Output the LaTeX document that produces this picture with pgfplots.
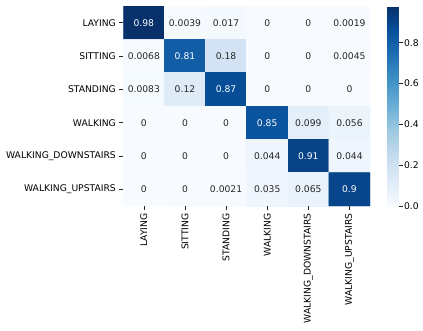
\documentclass[border=0pt]{standalone}
\usepackage{pgfplots}
\pgfplotsset{compat=1.18}
\usepackage{pgfplotstable}
\usepackage{fontspec}
\setmainfont{DejaVu Sans}
\definecolor{annot}{gray}{0.15}

% confusion matrix, normalised per row; y = row index from the top (matrix plot reverses y)
\pgfplotstableread{
x y c t
0 0 0.98 0.98
1 0 0.0039 0.0039
2 0 0.017 0.017
3 0 0 0
4 0 0 0
5 0 0.0019 0.0019
0 1 0.0068 0.0068
1 1 0.81 0.81
2 1 0.18 0.18
3 1 0 0
4 1 0 0
5 1 0.0045 0.0045
0 2 0.0083 0.0083
1 2 0.12 0.12
2 2 0.87 0.87
3 2 0 0
4 2 0 0
5 2 0 0
0 3 0 0
1 3 0 0
2 3 0 0
3 3 0.85 0.85
4 3 0.099 0.099
5 3 0.056 0.056
0 4 0 0
1 4 0 0
2 4 0 0
3 4 0.044 0.044
4 4 0.91 0.91
5 4 0.044 0.044
0 5 0 0
1 5 0 0
2 5 0.0021 0.0021
3 5 0.035 0.035
4 5 0.065 0.065
5 5 0.9 0.9
}\cm

\begin{document}
\begin{tikzpicture}[font=\fontsize{9.2}{11}\selectfont]
\useasboundingbox (0,0) rectangle (423pt,-330pt);
\begin{axis}[
    at={(123.3pt,-6pt)}, anchor=north west,
    width=246.7pt, height=200pt, scale only axis,
    xmin=-0.5, xmax=5.5, ymin=-0.5, ymax=5.5,
    axis line style={draw=none},
    xtick={0,...,5}, ytick={0,...,5},
    xticklabels={LAYING,SITTING,STANDING,WALKING,WALKING\_DOWNSTAIRS,WALKING\_UPSTAIRS},
    yticklabels={LAYING,SITTING,STANDING,WALKING,WALKING\_DOWNSTAIRS,WALKING\_UPSTAIRS},
    xticklabel style={rotate=90, anchor=east},
    tick align=outside, major tick length=4pt,
    xtick pos=left, ytick pos=left,
    tick style={black!85, line width=0.7pt},
    colormap={blues}{rgb255=(247,251,255) rgb255=(222,235,247) rgb255=(198,219,239)
        rgb255=(158,202,225) rgb255=(107,174,214) rgb255=(66,146,198)
        rgb255=(33,113,181) rgb255=(8,81,156) rgb255=(8,48,107)},
    point meta min=0, point meta max=0.98,
    colorbar,
    colorbar style={
        at={(parent axis.north east)}, anchor=north west, xshift=9pt,
        width=11pt,
        axis line style={draw=none},
        ytick={0,0.2,0.4,0.6,0.8},
        ytick pos=right, tick align=outside, major tick length=4pt,
        tick style={black!85, line width=0.7pt},
        yticklabel style={xshift=-2pt, /pgf/number format/.cd, fixed, fixed zerofill,
            precision=1, assume math mode=true},
        scaled y ticks=false,
    },
]
\addplot[matrix plot, mesh/cols=6, point meta=explicit] table[x=x, y=y, meta=c] {\cm};
\addplot[draw=none, mark=none, nodes near coords, point meta=explicit symbolic,
    nodes near coords style={anchor=center, text=white},
    restrict expr to domain={\thisrow{c}}{0.5:2}] table[x=x, y=y, meta=t] {\cm};
\addplot[draw=none, mark=none, nodes near coords, point meta=explicit symbolic,
    nodes near coords style={anchor=center, text=annot},
    restrict expr to domain={\thisrow{c}}{-1:0.5}] table[x=x, y=y, meta=t] {\cm};
\end{axis}
\end{tikzpicture}
\end{document}
